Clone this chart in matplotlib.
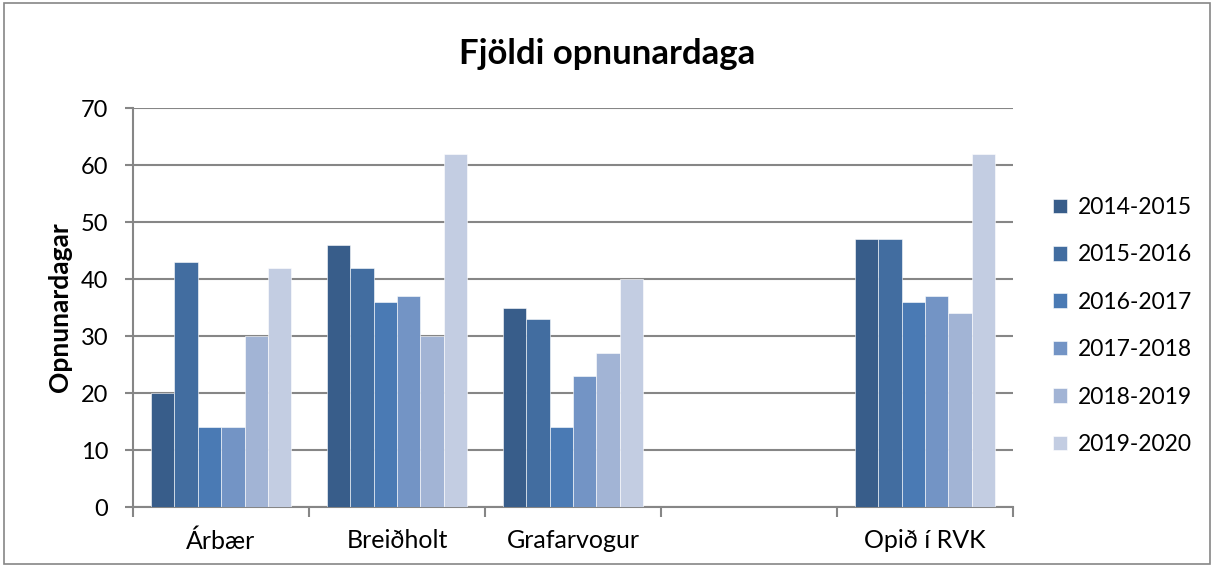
import matplotlib.pyplot as plt
import numpy as np
from matplotlib.patches import Rectangle

plt.rcParams['font.family'] = ['Lato', 'DejaVu Sans']

# gögn
categories = ['Árbær', 'Breiðholt', 'Grafarvogur', '', 'Opið í RVK']
seasons = ['2014-2015', '2015-2016', '2016-2017', '2017-2018', '2018-2019', '2019-2020']
values = {
    '2014-2015': [20, 46, 35, np.nan, 47],
    '2015-2016': [43, 42, 33, np.nan, 47],
    '2016-2017': [14, 36, 14, np.nan, 36],
    '2017-2018': [14, 37, 23, np.nan, 37],
    '2018-2019': [30, 30, 27, np.nan, 34],
    '2019-2020': [42, 62, 40, np.nan, 62],
}
colors = ['#385d8a', '#426da0', '#4a7ab4', '#7394c5', '#a2b4d5', '#c3cde2']

fig = plt.figure(figsize=(12.14, 5.67), dpi=100)
ax = fig.add_axes([0.1096, 0.1058, 0.7248, 0.7037])

x = np.arange(len(categories))
width = 0.8 / len(seasons)
for i, s in enumerate(seasons):
    ax.bar(x - 0.4 + width * (i + 0.5), values[s], width, color=colors[i],
           label=s, zorder=3, edgecolor='white', linewidth=0.4)

ax.set_xlim(-0.5, len(categories) - 0.5)
ax.set_ylim(0, 70)
ax.set_yticks(range(0, 71, 10))
ax.set_xticks(x)
ax.set_xticklabels(categories, fontsize=18)
ax.tick_params(axis='x', length=0, pad=16)
ax.set_xticks(np.arange(-0.5, len(categories), 1), minor=True)
ax.tick_params(axis='x', which='minor', length=7, color='#868686', width=1.5)
ax.tick_params(axis='y', length=6, color='#868686', width=1.5, labelsize=17, pad=12)
ax.grid(axis='y', color='#868686', linewidth=1.5, zorder=0)
for sp in ['top', 'right']:
    ax.spines[sp].set_visible(False)
for sp in ['left', 'bottom']:
    ax.spines[sp].set_color('#868686')
    ax.spines[sp].set_linewidth(1.5)

ax.set_ylabel('Opnunardagar', fontsize=19, fontweight='bold', labelpad=6)
fig.text(0.5, 0.905, 'Fjöldi opnunardaga', ha='center', va='center',
         fontsize=25, fontweight='bold')

ax.legend(loc='center left', bbox_to_anchor=(1.035, 0.4536), frameon=False,
          fontsize=16.5, handlelength=0.6, handleheight=0.6, labelspacing=1.15,
          handletextpad=0.5, borderaxespad=0.0)

fig.patches.append(Rectangle((0.003, 0.005), 0.994, 0.99, transform=fig.transFigure,
                             fill=False, edgecolor='#868686', linewidth=1.2))

fig.savefig('out.png', dpi=100)
